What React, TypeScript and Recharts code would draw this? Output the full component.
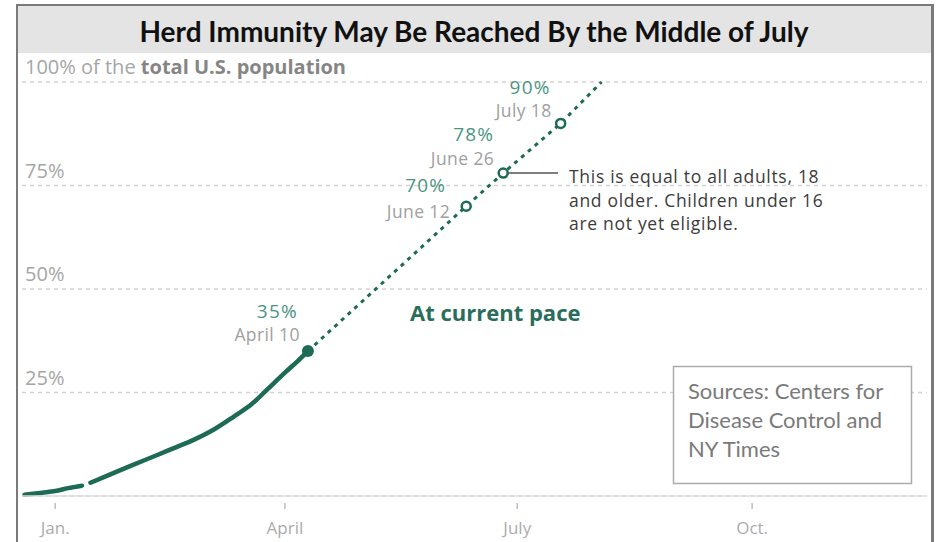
import { ComposedChart, Line, Scatter, XAxis, YAxis, CartesianGrid, ReferenceLine } from "recharts";

// día 0 = 1 de enero; valores en % de la población total de EE.UU.
const actualDays = [-12, -5, 0, 5, 10.5, 12, 13.8, 20, 30, 40, 47, 54, 62, 70, 77, 83, 90, 95, 99];
const actualPct = [0.3, 0.8, 1.2, 1.9, 2.5, null, 3.2, 4.8, 7.4, 9.9, 11.7, 13.5, 16.0, 19.2, 22.2, 25.7, 29.8, 32.6, 35];

const projDays = [99, 161, 175.5, 198, 214];
const projPct = [35, 70, 78, 90, 100];

const markerDays = [99, 161, 175.5, 198];
const markerPct = [35, 70, 78, 90];
const markerDates = ["April 10", "June 12", "June 26", "July 18"];

const tickDays = [0, 90, 181, 273];
const tickLabels = ["Jan.", "April", "July", "Oct."];
const gridPct = [25, 50, 75, 100];

const sourceLines = ["Sources: Centers for", "Disease Control and", "NY Times"];
const noteLines = ["This is equal to all adults, 18", "and older. Children under 16", "are not yet eligible."];

const GREEN = "#1d6a55";
const LABEL_GREEN = "#4b9582";
const GRAY = "#a0a0a0";
const FONT = "'Open Sans', sans-serif";

const actualData = actualDays.map((d, i) => ({ day: d, pct: actualPct[i] }));
const projData = projDays.map((d, i) => ({ day: d, pct: projPct[i] }));
const markerData = markerDays.map((d, i) => ({ day: d, pct: markerPct[i], date: markerDates[i] }));

// desplazamientos de las etiquetas de cada marcador (el de 70% va debajo/izquierda)
const labelOffsets = [
  { pdx: -10, pdy: -33, ddx: -8, ddy: -10 },
  { pdx: -20, pdy: -14, ddx: -16, ddy: 12 },
  { pdx: -9, pdy: -32, ddx: -9, ddy: -8 },
  { pdx: -10, pdy: -29, ddx: -9, ddy: -6 },
];

function YTick({ y, payload }: any) {
  const v = payload.value;
  const common = { x: 25, y: y - 8, fontFamily: FONT, fontSize: 20, fill: "#a6a6a6", textAnchor: "start" as const };
  if (v === 100) {
    return (
      <text {...common}>
        <tspan>100% of the </tspan>
        <tspan fontWeight={700} fill="#858585">total U.S. population</tspan>
      </text>
    );
  }
  return <text {...common}>{v}%</text>;
}

function XTick({ x, y, payload }: any) {
  const i = tickDays.indexOf(payload.value);
  return (
    <g>
      <line x1={x} x2={x} y1={y + 7} y2={y + 13} stroke="#bdbdbd" strokeWidth={1.5} />
      <text x={x} y={y + 38} textAnchor="middle" fontFamily={FONT} fontSize={17} fill="#acacac">{tickLabels[i]}</text>
    </g>
  );
}

function Marker(props: any) {
  const { cx, cy, payload } = props;
  const i = markerDates.indexOf(payload.date);
  const o = labelOffsets[i];
  return (
    <g>
      {i === 0
        ? <circle cx={cx} cy={cy} r={6} fill={GREEN} />
        : <circle cx={cx} cy={cy} r={4.5} fill="#fff" stroke={GREEN} strokeWidth={2.5} />}
      <text x={cx + o.pdx} y={cy + o.pdy} textAnchor="end" fontFamily={FONT} fontSize={19} letterSpacing={1.2} fill={LABEL_GREEN}>{payload.pct}%</text>
      <text x={cx + o.ddx} y={cy + o.ddy} textAnchor="end" fontFamily={FONT} fontSize={17.5} letterSpacing={0.4} fill={GRAY}>{payload.date}</text>
    </g>
  );
}

export default function App() {
  return (
    <div style={{ position: "absolute", left: 0, top: 0, width: 939, height: 542, background: "#fff", overflow: "hidden" }}>
      <div style={{
        position: "absolute", left: 16, top: 4, width: 918, height: 560, boxSizing: "border-box",
        borderTop: "2px solid #7a7a7a", borderLeft: "2px solid #7a7a7a", borderRight: "3px solid #7a7a7a",
      }}>
        <div style={{ height: 47, background: "#e4e4e4" }} />
      </div>
      <div style={{ position: "absolute", left: 0, top: 0 }}>
        <ComposedChart width={939} height={542} margin={{ top: 82, right: 12, left: 22, bottom: 0 }}>
          <CartesianGrid vertical={false} stroke="#d2d2d2" strokeDasharray="4 4" strokeWidth={1.5} />
          <XAxis type="number" dataKey="day" domain={[-13, 341.5]} ticks={tickDays} allowDataOverflow
            height={46} tickSize={0} tickMargin={0} axisLine={{ stroke: "#dcdcdc", strokeWidth: 1.5 }} tickLine={false} tick={<XTick />} />
          <YAxis type="number" dataKey="pct" domain={[0, 100]} ticks={gridPct} mirror width={60}
            axisLine={false} tickLine={false} tick={<YTick />} />
          <Line data={actualData} dataKey="pct" type="monotone" stroke={GREEN} strokeWidth={4.5}
            strokeLinecap="round" dot={false} activeDot={false} isAnimationActive={false} />
          <Line data={projData} dataKey="pct" type="linear" stroke={GREEN} strokeWidth={3}
            strokeDasharray="4 5" dot={false} activeDot={false} isAnimationActive={false} />
          <ReferenceLine segment={[{ x: 175.5, y: 78 }, { x: 197, y: 78 }]} stroke="#555" strokeWidth={1.5} />
          <Scatter data={markerData} dataKey="pct" shape={<Marker />} isAnimationActive={false} />
        </ComposedChart>
      </div>
      <svg width={939} height={542} style={{ position: "absolute", left: 0, top: 0, pointerEvents: "none" }}>
        <text x={474} y={42} textAnchor="middle" fontFamily="Lato, sans-serif" fontWeight={700} fontSize={28} fill="#111">
          Herd Immunity May Be Reached By the Middle of July
        </text>
        <text x={410} y={321} fontFamily={FONT} fontWeight={700} fontSize={22} fill="#2a6d5b">At current pace</text>
        {noteLines.map((t, i) => (
          <text key={t} x={569} y={183 + i * 23.5} fontFamily={FONT} fontSize={17.5} letterSpacing={0.7} fill="#3c3c3c">{t}</text>
        ))}
        <rect x={673.5} y={366.5} width={238} height={117} fill="#fff" stroke="#ababab" strokeWidth={1.5} />
        {sourceLines.map((t, i) => (
          <text key={t} x={688} y={399 + i * 29} fontFamily="Lato, sans-serif" fontSize={22} fill="#7a7a7a">{t}</text>
        ))}
      </svg>
    </div>
  );
}
